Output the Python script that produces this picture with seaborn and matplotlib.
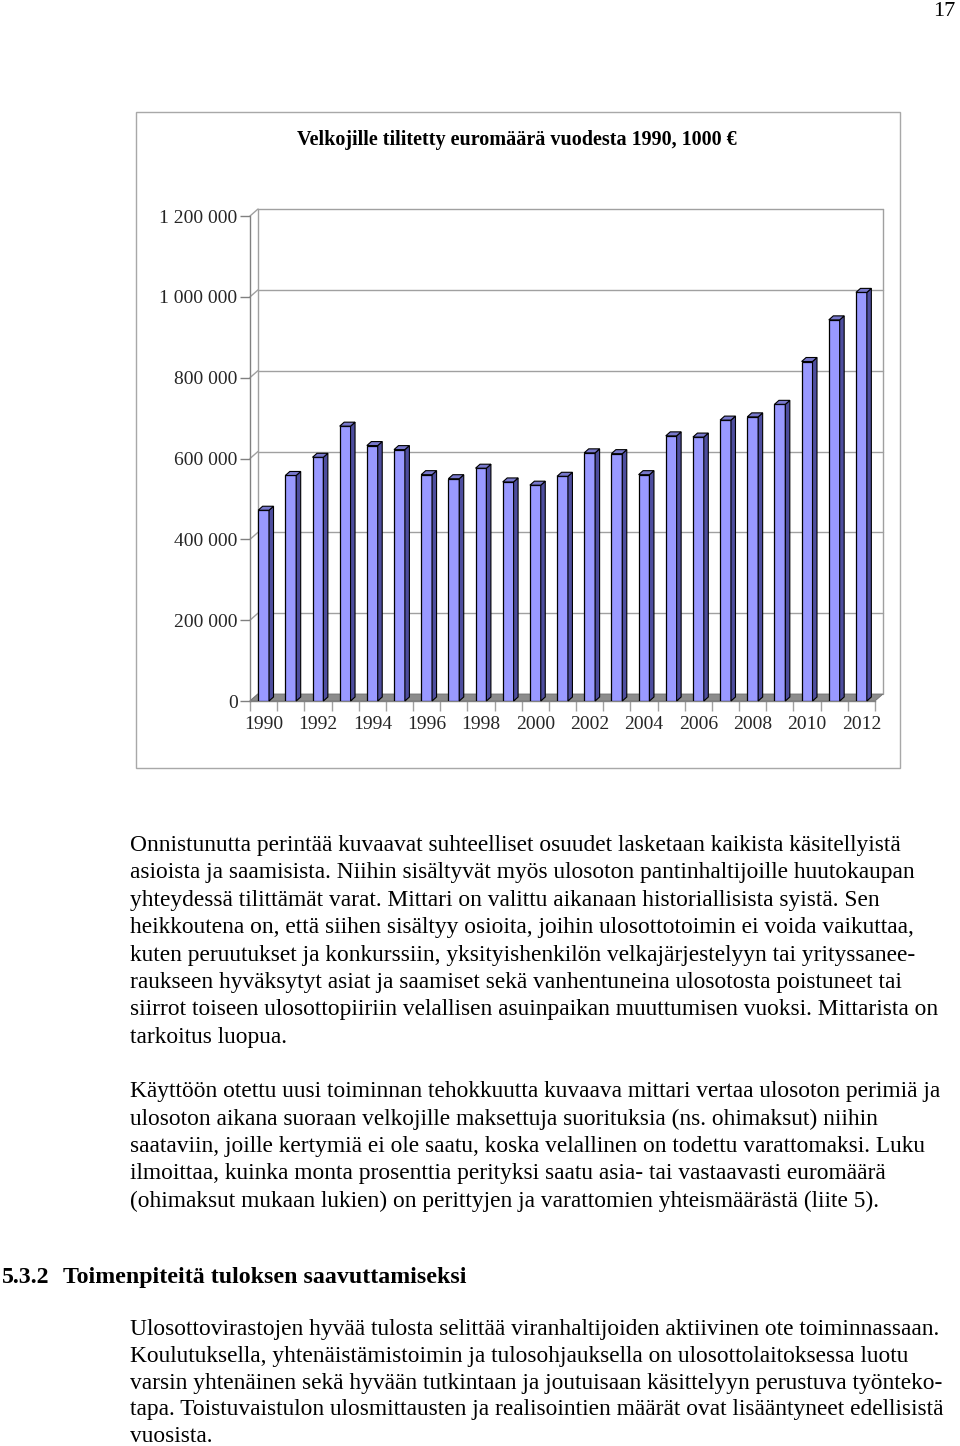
import numpy as np
import pandas as pd
import matplotlib
matplotlib.use("Agg")
import matplotlib.pyplot as plt
from matplotlib.patches import Polygon, Rectangle
import seaborn as sns

# ---------------- data ----------------
years = [str(y) for y in range(1990, 2013)]
values = [472000, 558000, 603000, 680000, 632000, 622000, 560000, 550000,
          576000, 542000, 534000, 556000, 614000, 612000, 560000, 656000,
          653000, 695000, 703000, 734000, 840000, 943000, 1011000]
ytick_values = [0, 200000, 400000, 600000, 800000, 1000000, 1200000]
ytick_labels = ["0", "200 000", "400 000", "600 000", "800 000", "1 000 000", "1 200 000"]
xlabel_years = [str(y) for y in range(1990, 2013, 2)]
title = "Velkojille tilitetty euromäärä vuodesta 1990, 1000 €"

para1 = [
    "Onnistunutta perintää kuvaavat suhteelliset osuudet lasketaan kaikista käsitellyistä",
    "asioista ja saamisista. Niihin sisältyvät myös ulosoton pantinhaltijoille huutokaupan",
    "yhteydessä tilittämät varat. Mittari on valittu aikanaan historiallisista syistä. Sen",
    "heikkoutena on, että siihen sisältyy osioita, joihin ulosottotoimin ei voida vaikuttaa,",
    "kuten peruutukset ja konkurssiin, yksityishenkilön velkajärjestelyyn tai yrityssanee-",
    "raukseen hyväksytyt asiat ja saamiset sekä vanhentuneina ulosotosta poistuneet tai",
    "siirrot toiseen ulosottopiiriin velallisen asuinpaikan muuttumisen vuoksi. Mittarista on",
    "tarkoitus luopua.",
]
para2 = [
    "Käyttöön otettu uusi toiminnan tehokkuutta kuvaava mittari vertaa ulosoton perimiä ja",
    "ulosoton aikana suoraan velkojille maksettuja suorituksia (ns. ohimaksut) niihin",
    "saataviin, joille kertymiä ei ole saatu, koska velallinen on todettu varattomaksi. Luku",
    "ilmoittaa, kuinka monta prosenttia perityksi saatu asia- tai vastaavasti euromäärä",
    "(ohimaksut mukaan lukien) on perittyjen ja varattomien yhteismäärästä (liite 5).",
]
heading_num = "5.3.2"
heading_text = "Toimenpiteitä tuloksen saavuttamiseksi"
para3 = [
    "Ulosottovirastojen hyvää tulosta selittää viranhaltijoiden aktiivinen ote toiminnassaan.",
    "Koulutuksella, yhtenäistämistoimin ja tulosohjauksella on ulosottolaitoksessa luotu",
    "varsin yhtenäinen sekä hyvään tutkintaan ja joutuisaan käsittelyyn perustuva työnteko-",
    "tapa. Toistuvaistulon ulosmittausten ja realisointien määrät ovat lisääntyneet edellisistä",
    "vuosista.",
]
page_number = "17"

# ---------------- style ----------------
sns.set_theme(style="white")
plt.rcParams["font.family"] = ["Liberation Serif", "DejaVu Serif"]

W, H = 960, 1446
fig = plt.figure(figsize=(W / 100, H / 100), dpi=100)

def fx(x):
    return x / W

def fy(y):
    return 1 - y / H

# chart frame
fig.patches.append(Rectangle((fx(136), fy(768)), (900 - 136) / W, (768 - 112) / H,
                             transform=fig.transFigure, fill=False,
                             edgecolor="#a8a8a8", linewidth=1.0))
fig.text(fx(517), fy(140), title, ha="center", va="center",
         fontsize=14.5, fontweight="bold", color="black")

# axes (front plane)
ax_l, ax_r, ax_t, ax_b = 250, 875, 216, 701
ax = fig.add_axes([fx(ax_l), fy(ax_b), (ax_r - ax_l) / W, (ax_b - ax_t) / H])
ax.set_facecolor("none")

df = pd.DataFrame({"year": years, "value": values})
sns.barplot(data=df, x="year", y="value", color="#9999ff", saturation=1,
            width=0.4, edgecolor="black", linewidth=0.9, ax=ax)

ax.set_xlim(-0.5, len(years) - 0.5)
ax.set_ylim(0, 1200000)
ax.set_xlabel("")
ax.set_ylabel("")

# depth offsets (data units)
px_x = (ax_r - ax_l) / len(years)
px_y = (ax_b - ax_t) / 1200000
dxw, dyw = 8 / px_x, 7 / px_y          # wall depth
dxb, dyb = 4.5 / px_x, 4 / px_y        # bar depth
x0, x1 = -0.5, len(years) - 0.5
gcol = "#a0a0a0"

# back wall gridlines + side connectors
for v in ytick_values:
    if v > 0:
        ax.plot([x0 + dxw, x1 + dxw], [v + dyw, v + dyw], color=gcol, lw=1,
                zorder=0.5, clip_on=False)
    ax.plot([x0, x0 + dxw], [v, v + dyw], color=gcol, lw=1, zorder=0.5, clip_on=False)
# back wall border
ax.plot([x0 + dxw, x0 + dxw], [dyw, 1200000 + dyw], color=gcol, lw=1, zorder=0.5, clip_on=False)
ax.plot([x1 + dxw, x1 + dxw], [dyw, 1200000 + dyw], color=gcol, lw=1, zorder=0.5, clip_on=False)

# floor
floor = Polygon([(x0, 0), (x1, 0), (x1 + dxw, dyw), (x0 + dxw, dyw)], closed=True,
                facecolor="#8c8c8c", edgecolor="#707070", lw=0.6, zorder=1, clip_on=False)
ax.add_patch(floor)

# 3D faces for the bars
for p in list(ax.patches):
    if p is floor:
        continue
    bx, bw, bh = p.get_x(), p.get_width(), p.get_height()
    p.set_zorder(3)
    side = Polygon([(bx + bw, 0), (bx + bw + dxb, dyb), (bx + bw + dxb, bh + dyb), (bx + bw, bh)],
                   closed=True, facecolor="#4d4d9e", edgecolor="black", lw=0.8, zorder=3.1,
                   clip_on=False)
    top = Polygon([(bx, bh), (bx + dxb, bh + dyb), (bx + bw + dxb, bh + dyb), (bx + bw, bh)],
                  closed=True, facecolor="#7878cc", edgecolor="black", lw=0.8, zorder=3.1,
                  clip_on=False)
    ax.add_patch(side)
    ax.add_patch(top)

# spines
for s in ["top", "right"]:
    ax.spines[s].set_visible(False)
ax.spines["left"].set_color("#808080")
ax.spines["bottom"].set_color("#808080")
ax.spines["left"].set_linewidth(1)
ax.spines["bottom"].set_linewidth(1)

# y ticks
ax.set_yticks(ytick_values)
ax.set_yticklabels(ytick_labels)
ax.tick_params(axis="y", which="major", direction="out", length=7, width=1,
               color="#808080", labelsize=14, pad=2, left=True)

# x ticks: marks at category boundaries, labels every second year
ax.set_xticks(np.arange(x0, x1 + 0.01, 1.0))
ax.set_xticklabels([])
ax.tick_params(axis="x", which="major", direction="out", length=7, width=1,
               color="#a0a0a0", bottom=True)
label_pos = [years.index(y) for y in xlabel_years]
ax.set_xticks(label_pos, minor=True)
ax.set_xticklabels(xlabel_years, minor=True)
ax.tick_params(axis="x", which="minor", length=0, labelsize=14, pad=11)
ax.grid(False)

# ---------------- page text ----------------
fs = 16.8
def block(lines, y_base, spacing, x=130, **kw):
    for i, line in enumerate(lines):
        fig.text(fx(x), fy(y_base + i * spacing), line, ha="left", va="baseline",
                 fontsize=fs, color="black", **kw)

block(para1, 851, 27.4)
block(para2, 1097, 27.5)
fig.text(fx(2), fy(1283), heading_num, ha="left", va="baseline", fontsize=17.2,
         fontweight="bold", color="black")
fig.text(fx(63), fy(1283), heading_text, ha="left", va="baseline", fontsize=17.2,
         fontweight="bold", color="black")
block(para3, 1335, 26.8)

fig.text(fx(955), fy(12), page_number, ha="right", va="center", fontsize=16, color="black")

fig.savefig("out.png", dpi=100)
